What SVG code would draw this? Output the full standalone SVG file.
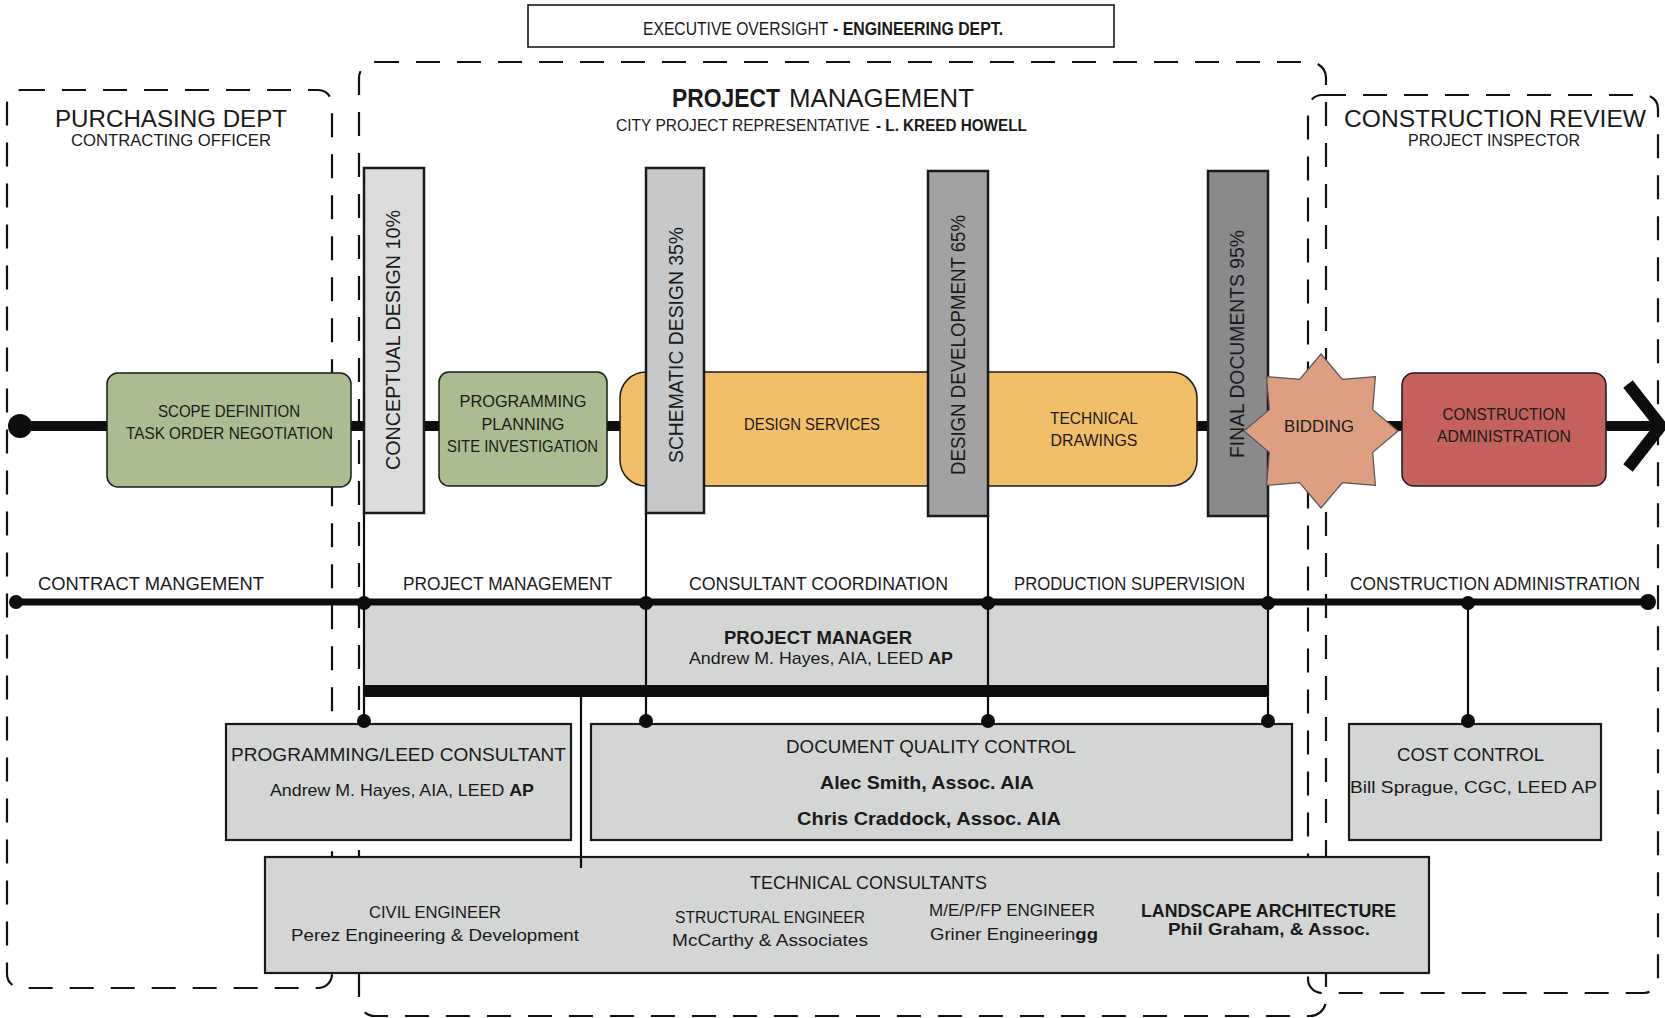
<svg xmlns="http://www.w3.org/2000/svg" width="1665" height="1018" viewBox="0 0 1665 1018">
<style>
.dash{fill:none;stroke:#111;stroke-width:2.2;stroke-dasharray:24 17}
text{font-family:"Liberation Sans",Arial,sans-serif;fill:#1a1a1a}
.m{text-anchor:middle}
.b{font-weight:700}
.box{fill:#d4d5d5;stroke:#1a1a1a;stroke-width:2.2}
.bar{stroke:#1a1a1a;stroke-width:2.5}
.ln{stroke:#0d0d0d;stroke-width:2.2;fill:none}
.dot{fill:#0d0d0d}
.flow{stroke:#1a1a1a;stroke-width:1.5}
</style>
<rect width="1665" height="1018" fill="#fff"/>

<g id="regions">
  <rect class="dash" x="7" y="90" width="325" height="898" rx="14"/>
  <rect class="dash" x="359" y="62" width="967" height="954" rx="16"/>
  <rect class="dash" x="1308" y="95" width="350" height="898" rx="14"/>
  <text class="m" x="171" y="127" font-size="23.5" textLength="232" lengthAdjust="spacingAndGlyphs">PURCHASING DEPT</text>
  <text class="m" x="171" y="146" font-size="16.5" textLength="200" lengthAdjust="spacingAndGlyphs">CONTRACTING OFFICER</text>
  <text class="b" x="672" y="107" font-size="25" textLength="108" lengthAdjust="spacingAndGlyphs">PROJECT</text>
  <text x="789" y="107" font-size="25" textLength="185" lengthAdjust="spacingAndGlyphs">MANAGEMENT</text>
  <text transform="translate(616,131) scale(0.915,1)" font-size="17">CITY PROJECT REPRESENTATIVE</text>
  <text class="b" transform="translate(876,131) scale(0.898,1)" font-size="17">- L. KREED HOWELL</text>
  <text class="m" x="1495" y="127" font-size="23.5" textLength="302" lengthAdjust="spacingAndGlyphs">CONSTRUCTION REVIEW</text>
  <text class="m" x="1494" y="146" font-size="16.5" textLength="172" lengthAdjust="spacingAndGlyphs">PROJECT INSPECTOR</text>
</g>

<g id="executive">
  <rect x="528" y="5" width="586" height="42" fill="#fff" stroke="#1a1a1a" stroke-width="1.6"/>
  <text transform="translate(643,35) scale(0.825,1)" font-size="19">EXECUTIVE OVERSIGHT</text>
  <text class="b" transform="translate(833,35) scale(0.835,1)" font-size="19">- ENGINEERING DEPT.</text>
</g>

<g id="project-manager">
  <rect x="364" y="602" width="904" height="83" fill="#d4d5d5"/>
  <text class="m b" x="818" y="644" font-size="18.5" textLength="188" lengthAdjust="spacingAndGlyphs">PROJECT MANAGER</text>
  <text class="m" x="821" y="664" font-size="17" textLength="264" lengthAdjust="spacingAndGlyphs">Andrew M. Hayes, AIA, LEED <tspan class="b">AP</tspan></text>
</g>

<g id="programming-leed-consultant">
  <rect class="box" x="226" y="724" width="345" height="116"/>
  <text class="m" x="398.5" y="761" font-size="17.5" textLength="335" lengthAdjust="spacingAndGlyphs">PROGRAMMING/LEED CONSULTANT</text>
  <text class="m" x="402" y="796" font-size="17" textLength="264" lengthAdjust="spacingAndGlyphs">Andrew M. Hayes, AIA, LEED <tspan class="b">AP</tspan></text>
</g>

<g id="document-quality-control">
  <rect class="box" x="591" y="724" width="701" height="116"/>
  <text class="m" x="931" y="753" font-size="18" textLength="290" lengthAdjust="spacingAndGlyphs">DOCUMENT QUALITY CONTROL</text>
  <text class="m b" x="927" y="789" font-size="18" textLength="214" lengthAdjust="spacingAndGlyphs">Alec Smith, Assoc. AIA</text>
  <text class="m b" x="929" y="825" font-size="18" textLength="264" lengthAdjust="spacingAndGlyphs">Chris Craddock, Assoc. AIA</text>
</g>

<g id="cost-control">
  <rect class="box" x="1349" y="724" width="252" height="116"/>
  <text class="m" x="1470.5" y="761" font-size="18" textLength="147" lengthAdjust="spacingAndGlyphs">COST CONTROL</text>
  <text class="m" x="1473.5" y="793" font-size="17" textLength="247" lengthAdjust="spacingAndGlyphs">Bill Sprague, CGC, LEED AP</text>
</g>

<g id="technical-consultants">
  <rect class="box" x="265" y="857" width="1164" height="116" stroke-width="2.6"/>
  <text class="m" x="868.5" y="889" font-size="17.5" textLength="237" lengthAdjust="spacingAndGlyphs">TECHNICAL CONSULTANTS</text>
  <text class="m" x="435" y="918" font-size="16" textLength="132" lengthAdjust="spacingAndGlyphs">CIVIL ENGINEER</text>
  <text class="m" x="435" y="941" font-size="17" textLength="288" lengthAdjust="spacingAndGlyphs">Perez Engineering &amp; Development</text>
  <text class="m" x="770" y="923" font-size="16" textLength="190" lengthAdjust="spacingAndGlyphs">STRUCTURAL ENGINEER</text>
  <text class="m" x="770" y="946" font-size="17" textLength="196" lengthAdjust="spacingAndGlyphs">McCarthy &amp; Associates</text>
  <text x="929" y="916" font-size="16" textLength="166" lengthAdjust="spacingAndGlyphs">M/E/P/FP ENGINEER</text>
  <text x="930" y="940" font-size="17" textLength="168" lengthAdjust="spacingAndGlyphs">Griner Engineerin<tspan class="b">gg</tspan></text>
  <text class="m b" x="1268.5" y="917" font-size="18" textLength="255" lengthAdjust="spacingAndGlyphs">LANDSCAPE ARCHITECTURE</text>
  <text class="m b" x="1269" y="935" font-size="17" textLength="202" lengthAdjust="spacingAndGlyphs">Phil Graham, &amp; Assoc.</text>
</g>

<g id="connectors">
  <line x1="20" y1="426" x2="1656" y2="426" stroke="#0d0d0d" stroke-width="10"/>
  <circle class="dot" cx="20" cy="426" r="12"/>
  <polyline points="1628,384 1661,426 1628,468" fill="none" stroke="#0d0d0d" stroke-width="12"/>
  <line x1="16" y1="602" x2="1648" y2="602" stroke="#0d0d0d" stroke-width="7"/>
  <circle class="dot" cx="16" cy="602" r="7"/>
  <circle class="dot" cx="1648" cy="602" r="8"/>
  <line x1="364" y1="691" x2="1268" y2="691" stroke="#0d0d0d" stroke-width="12"/>
  <line class="ln" x1="364" y1="513" x2="364" y2="721"/>
  <line class="ln" x1="646" y1="513" x2="646" y2="721"/>
  <line class="ln" x1="988" y1="516" x2="988" y2="721"/>
  <line class="ln" x1="1268" y1="516" x2="1268" y2="721"/>
  <line class="ln" x1="1468" y1="602" x2="1468" y2="721"/>
  <line class="ln" x1="581" y1="697" x2="581" y2="868"/>
  <circle class="dot" cx="364" cy="603" r="7"/>
  <circle class="dot" cx="646" cy="603" r="7"/>
  <circle class="dot" cx="988" cy="603" r="7"/>
  <circle class="dot" cx="1268" cy="603" r="7"/>
  <circle class="dot" cx="1468" cy="603" r="7"/>
  <circle class="dot" cx="364" cy="721" r="7"/>
  <circle class="dot" cx="646" cy="721" r="7"/>
  <circle class="dot" cx="988" cy="721" r="7"/>
  <circle class="dot" cx="1268" cy="721" r="7"/>
  <circle class="dot" cx="1468" cy="721" r="7"/>
</g>

<g id="lane-labels">
  <text x="38" y="590" font-size="17.5" textLength="226" lengthAdjust="spacingAndGlyphs">CONTRACT MANGEMENT</text>
  <text x="403" y="590" font-size="17.5" textLength="209" lengthAdjust="spacingAndGlyphs">PROJECT MANAGEMENT</text>
  <text x="689" y="590" font-size="17.5" textLength="259" lengthAdjust="spacingAndGlyphs">CONSULTANT COORDINATION</text>
  <text x="1014" y="590" font-size="17.5" textLength="231" lengthAdjust="spacingAndGlyphs">PRODUCTION SUPERVISION</text>
  <text x="1350" y="590" font-size="17.5" textLength="290" lengthAdjust="spacingAndGlyphs">CONSTRUCTION ADMINISTRATION</text>
</g>

<g id="scope-definition">
  <rect class="flow" x="107" y="373" width="244" height="114" rx="11" fill="#a9bd90"/>
  <text class="m" x="229" y="417" font-size="17" textLength="142" lengthAdjust="spacingAndGlyphs">SCOPE DEFINITION</text>
  <text class="m" x="229.5" y="439" font-size="17" textLength="207" lengthAdjust="spacingAndGlyphs">TASK ORDER NEGOTIATION</text>
</g>

<g id="programming">
  <rect class="flow" x="439" y="372" width="168" height="114" rx="10" fill="#a9bd90"/>
  <text class="m" x="523" y="407" font-size="17" textLength="127" lengthAdjust="spacingAndGlyphs">PROGRAMMING</text>
  <text class="m" x="523" y="430" font-size="17" textLength="83" lengthAdjust="spacingAndGlyphs">PLANNING</text>
  <text class="m" x="522.5" y="452" font-size="17" textLength="151" lengthAdjust="spacingAndGlyphs">SITE INVESTIGATION</text>
</g>

<g id="design-services">
  <rect class="flow" x="620" y="372" width="577" height="114" rx="26" fill="#f1bf68"/>
  <text class="m" x="812" y="430" font-size="17" textLength="136" lengthAdjust="spacingAndGlyphs">DESIGN SERVICES</text>
  <text class="m" x="1094" y="424" font-size="17" textLength="88" lengthAdjust="spacingAndGlyphs">TECHNICAL</text>
  <text class="m" x="1094" y="446" font-size="17" textLength="87" lengthAdjust="spacingAndGlyphs">DRAWINGS</text>
</g>

<g id="conceptual-design">
  <rect class="bar" x="364" y="168" width="60" height="345" fill="#dcdcdc"/>
  <text class="m" transform="translate(400,340) rotate(-90)" font-size="20" textLength="260" lengthAdjust="spacingAndGlyphs">CONCEPTUAL DESIGN 10%</text>
</g>

<g id="schematic-design">
  <rect class="bar" x="646" y="168" width="58" height="345" fill="#c7c8ca"/>
  <text class="m" transform="translate(683,345) rotate(-90)" font-size="20" textLength="236" lengthAdjust="spacingAndGlyphs">SCHEMATIC DESIGN 35%</text>
</g>

<g id="design-development">
  <rect class="bar" x="928" y="171" width="60" height="345" fill="#a2a2a2"/>
  <text class="m" transform="translate(965,345) rotate(-90)" font-size="20" textLength="260" lengthAdjust="spacingAndGlyphs">DESIGN DEVELOPMENT 65%</text>
</g>

<g id="final-documents">
  <rect class="bar" x="1208" y="171" width="60" height="345" fill="#8a898b"/>
  <text class="m" transform="translate(1244,344) rotate(-90)" font-size="20" textLength="228" lengthAdjust="spacingAndGlyphs">FINAL DOCUMENTS 95%</text>
</g>

<g id="bidding">
  <polygon points="1321,354 1342.4,379.3 1375.4,376.6 1372.7,409.6 1398,431 1372.7,452.4 1375.4,485.4 1342.4,482.7 1321,508 1299.6,482.7 1266.6,485.4 1269.3,452.4 1244,431 1269.3,409.6 1266.6,376.6 1299.6,379.3" fill="#dd9f7f" stroke="#555" stroke-width="1.2"/>
  <text class="m" x="1319" y="432" font-size="17" textLength="70" lengthAdjust="spacingAndGlyphs">BIDDING</text>
</g>

<g id="construction-administration">
  <rect class="flow" x="1402" y="373" width="204" height="113" rx="12" fill="#c5615b"/>
  <text class="m" x="1504" y="420" font-size="17" textLength="123" lengthAdjust="spacingAndGlyphs">CONSTRUCTION</text>
  <text class="m" x="1504" y="442" font-size="17" textLength="134" lengthAdjust="spacingAndGlyphs">ADMINISTRATION</text>
</g>
</svg>
